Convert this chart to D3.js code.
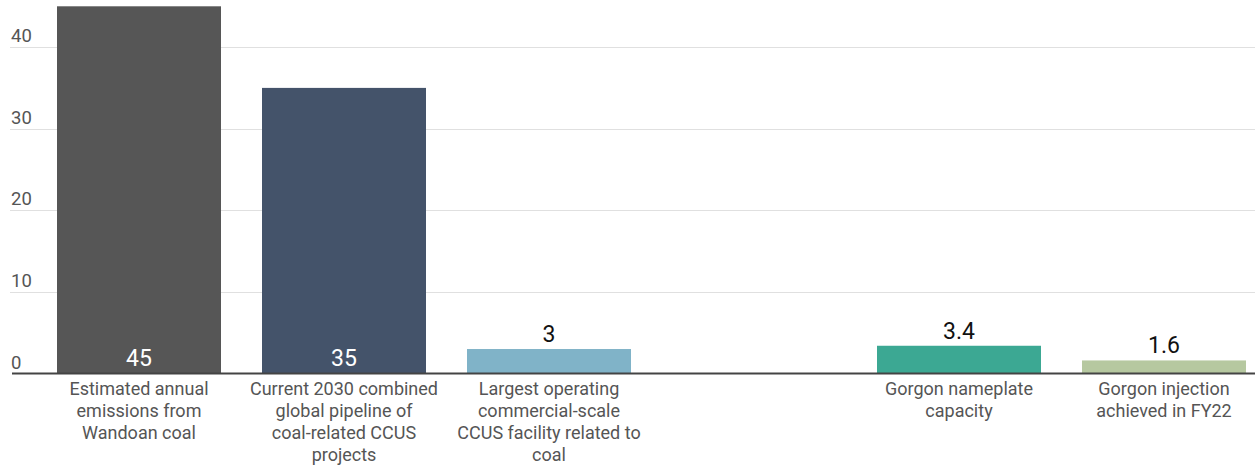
<!DOCTYPE html>
<html>
<head>
<meta charset="utf-8">
<script src="https://cdn.jsdelivr.net/npm/d3@7"></script>
<style>
  html, body { margin: 0; padding: 0; background: #fff; }
  svg { display: block; font-family: Roboto, "Noto Sans", sans-serif; }
</style>
</head>
<body>
<svg id="chart" width="1255" height="467"></svg>
<script>
const categories = [
  ["Estimated annual", "emissions from", "Wandoan coal"],
  ["Current 2030 combined", "global pipeline of", "coal-related CCUS", "projects"],
  ["Largest operating", "commercial-scale", "CCUS facility related to", "coal"],
  [],
  ["Gorgon nameplate", "capacity"],
  ["Gorgon injection", "achieved in FY22"]
];
const values = [45, 35, 3, null, 3.4, 1.6];
const valueLabels = ["45", "35", "3", "", "3.4", "1.6"];
const colors = ["#565656", "#44536a", "#80b3c8", "none", "#3ca893", "#b6c8a0"];
const yTicks = [0, 10, 20, 30, 40];

const svg = d3.select("#chart");
const W = 1255, H = 467;
const baseY = 373.5;

const x = d3.scaleBand()
  .domain(d3.range(categories.length))
  .range([57, 1246])
  .paddingInner(0.2)
  .paddingOuter(0);

const y = d3.scaleLinear()
  .domain([0, 45])
  .range([baseY, baseY - 45 * 8.16]);

// gridlines
const grid = svg.append("g");
grid.selectAll("line")
  .data(yTicks.filter(d => d > 0))
  .enter().append("line")
  .attr("x1", 10).attr("x2", W)
  .attr("y1", d => Math.round(y(d)) + 0.5)
  .attr("y2", d => Math.round(y(d)) + 0.5)
  .attr("stroke", "#e0e0e0")
  .attr("stroke-width", 1);

// y tick labels
svg.append("g").selectAll("text")
  .data(yTicks)
  .enter().append("text")
  .attr("x", 11)
  .attr("y", d => y(d) - 5)
  .attr("font-size", 18.5)
  .attr("fill", "#555")
  .text(d => d);

// bars
const data = values.map((v, i) => ({i, v, label: valueLabels[i], color: colors[i], cat: categories[i]}));
svg.append("g").selectAll("rect")
  .data(data.filter(d => d.v !== null))
  .enter().append("rect")
  .attr("x", d => x(d.i))
  .attr("width", x.bandwidth())
  .attr("y", d => y(d.v))
  .attr("height", d => baseY - y(d.v))
  .attr("fill", d => d.color);

// value labels
svg.append("g").selectAll("text")
  .data(data.filter(d => d.v !== null))
  .enter().append("text")
  .attr("x", d => x(d.i) + x.bandwidth() / 2)
  .attr("y", d => d.v > 10 ? baseY - 8 : y(d.v) - 7)
  .attr("text-anchor", "middle")
  .attr("font-size", 23)
  .attr("fill", d => d.v > 10 ? "#ffffff" : "#111")
  .text(d => d.label);

// baseline
svg.append("line")
  .attr("x1", 12).attr("x2", W)
  .attr("y1", baseY).attr("y2", baseY)
  .attr("stroke", "#444")
  .attr("stroke-width", 2);

// category labels
const cats = svg.append("g").selectAll("text")
  .data(data)
  .enter().append("text")
  .attr("text-anchor", "middle")
  .attr("font-size", 18)
  .attr("fill", "#555")
  .attr("x", d => x(d.i) + x.bandwidth() / 2)
  .attr("y", 395);
cats.selectAll("tspan")
  .data(d => d.cat.map(t => ({t, xx: x(d.i) + x.bandwidth() / 2})))
  .enter().append("tspan")
  .attr("x", d => d.xx)
  .attr("dy", (d, k) => k === 0 ? 0 : 22)
  .text(d => d.t);
</script>
</body>
</html>
